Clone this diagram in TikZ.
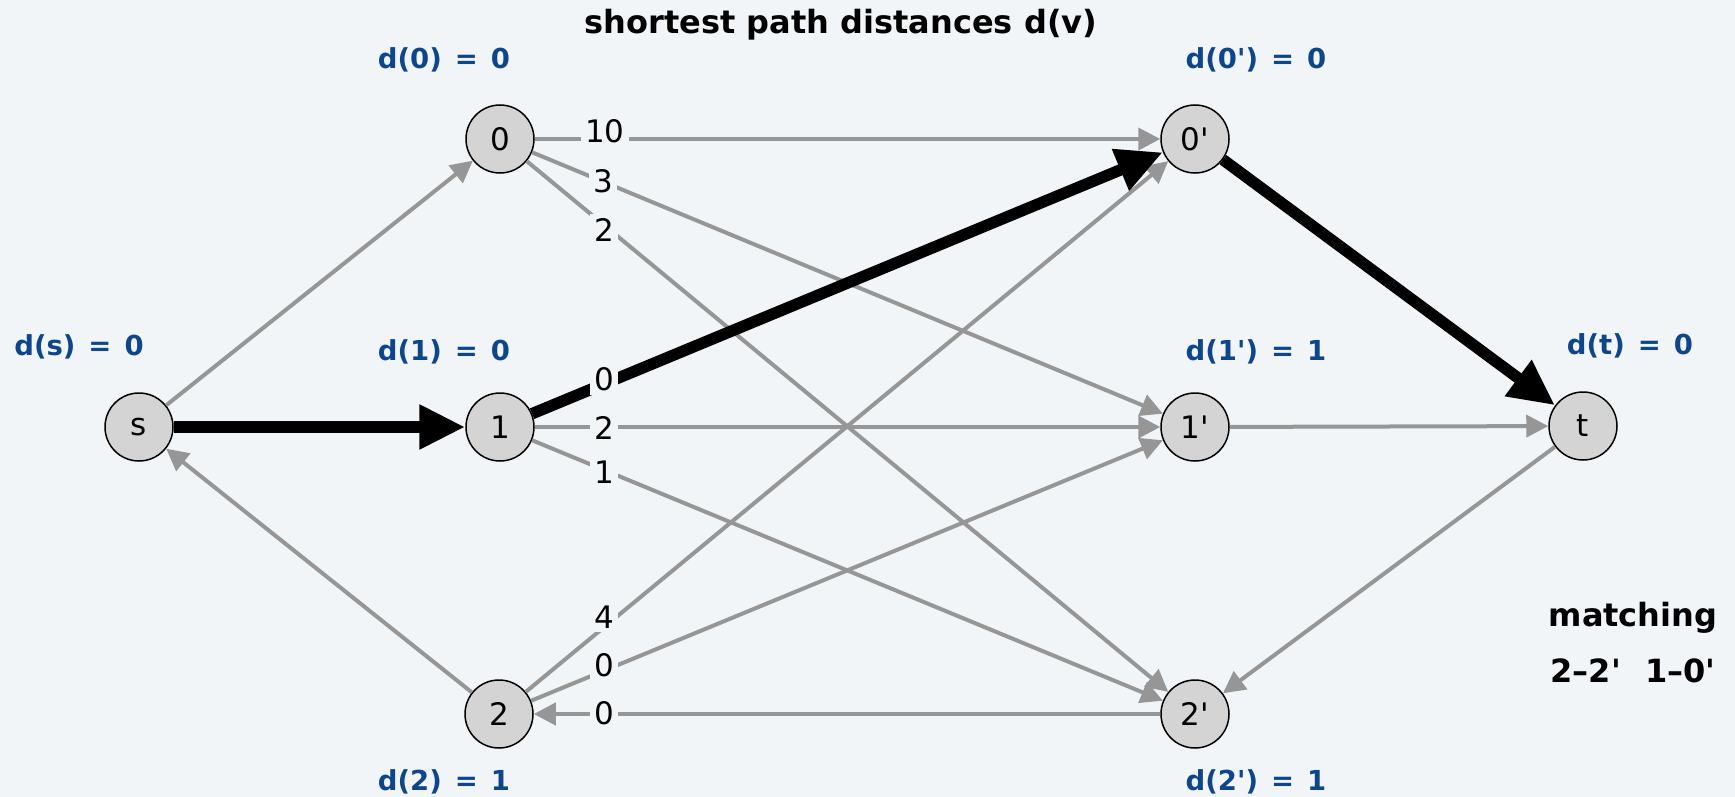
\documentclass[tikz,border=0pt]{standalone}
\usepackage{fontspec}
\newfontfamily\df{DejaVu Sans}
\usetikzlibrary{arrows.meta}
\definecolor{bg}{RGB}{242,245,248}
\definecolor{nfill}{RGB}{212,212,212}
\definecolor{eg}{RGB}{150,150,150}
\definecolor{dblue}{RGB}{14,70,140}
\newcommand{\gp}{\hspace{13pt}}
\begin{document}
\begin{tikzpicture}[x=1pt,y=-1pt,
  vtx/.style={circle, draw=black, line width=1.5pt, fill=nfill, minimum size=68pt, inner sep=0pt, font=\df\fontsize{31}{31}\selectfont},
  gedge/.style={draw=eg, line width=4pt, -{Triangle[length=22pt,width=22pt]}},
  bedge/.style={draw=black, line width=11.5pt, -{Triangle[length=46pt,width=42pt]}},
  elabel/.style={fill=bg, inner sep=4pt, font=\df\fontsize{31}{31}\selectfont},
  dlab/.style={text=dblue, font=\df\bfseries\fontsize{27.5}{27.5}\selectfont},
  ttl/.style={font=\df\bfseries\fontsize{32}{32}\selectfont}]
\fill[bg] (0,0) rectangle (1735,797);
\useasboundingbox (0,0) rectangle (1735,797);

\node[vtx] (s) at (139,427) {s};
\node[vtx] (0) at (500,139) {0};
\node[vtx] (1) at (500,427) {1};
\node[vtx] (2) at (499,714) {2};
\node[vtx] (0p) at (1195,139) {0'};
\node[vtx] (1p) at (1195,427) {1'};
\node[vtx] (2p) at (1195,714) {2'};
\node[vtx] (t) at (1583,426) {t};

\draw[gedge] (s) -- (0);
\draw[gedge] (2) -- (s);
\draw[gedge] (0) -- (0p);
\draw[gedge] (0) -- (1p);
\draw[gedge] (0) -- (2p);
\draw[gedge] (1) -- (1p);
\draw[gedge] (1) -- (2p);
\draw[gedge] (2) -- (0p);
\draw[gedge] (2) -- (1p);
\draw[gedge] (2p) -- (2);
\draw[gedge] (1p) -- (t);
\draw[gedge] (t) -- (2p);
\draw[bedge] (s) -- (1);
\draw[bedge] (1) -- (0p);
\draw[bedge] (0p) -- (t);

\node[elabel] (w00) at (605,131) {10};
\node[elabel] (w01) at (603,181) {3};
\node[elabel] (w02) at (604,230) {2};
\node[elabel] (w10) at (604,379) {0};
\node[elabel] (w11) at (604,428) {2};
\node[elabel] (w12) at (604,472) {1};
\node[elabel] (w20) at (604,617) {4};
\node[elabel] (w21) at (604,665) {0};
\node[elabel] (w22) at (604,713) {0};

\node[ttl] (title) at (841,25) {shortest path distances d(v)};
\node[dlab] (ds) at (79,347) {d(s)\gp=\gp0};
\node[dlab] (d0) at (444,60) {d(0)\gp=\gp0};
\node[dlab] (d1) at (444,352) {d(1)\gp=\gp0};
\node[dlab] (d2) at (444,782) {d(2)\gp=\gp1};
\node[dlab] (d0p) at (1256,60) {d(0')\gp=\gp0};
\node[dlab] (d1p) at (1256,352) {d(1')\gp=\gp1};
\node[dlab] (d2p) at (1256,782) {d(2')\gp=\gp1};
\node[dlab] (dt) at (1630,346) {d(t)\gp=\gp0};
\node[ttl] (m1) at (1633,618) {matching};
\node[ttl] (m2) at (1633,671) {2–2'\hspace{24pt}1–0'};
\end{tikzpicture}
\end{document}
